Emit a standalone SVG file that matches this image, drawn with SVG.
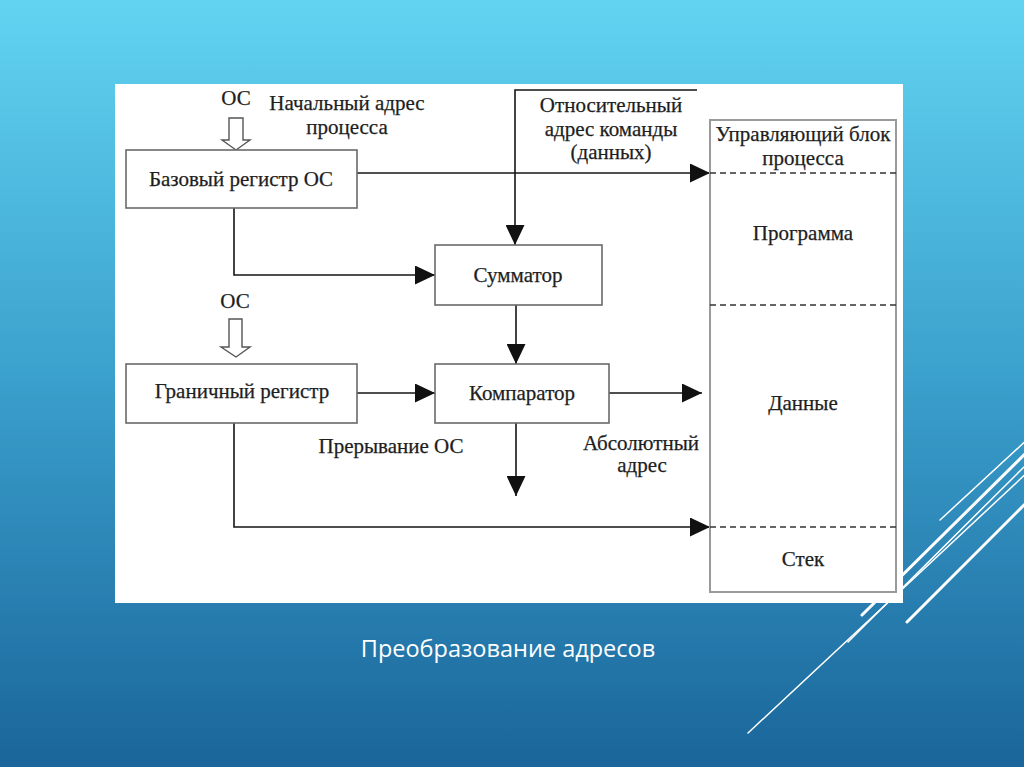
<svg xmlns="http://www.w3.org/2000/svg" width="1024" height="767" viewBox="0 0 1024 767">
<defs>
<linearGradient id="bg" x1="0" y1="0" x2="0" y2="1">
<stop offset="0" stop-color="#62d4f1"/>
<stop offset="0.5" stop-color="#3a9fcc"/>
<stop offset="1" stop-color="#1a659a"/>
</linearGradient>
<marker id="ah" viewBox="0 0 20 19" refX="20" refY="9.5" markerWidth="20" markerHeight="19" orient="auto" markerUnits="userSpaceOnUse">
<path d="M0,0 L20,9.5 L0,19 z" fill="#111"/>
</marker>
<style>
.t{font-family:"Liberation Serif","Times New Roman",serif;font-size:21px;fill:#1e1e1e;stroke:#1e1e1e;stroke-width:0.25;text-anchor:middle}
.box{fill:#fff;stroke:#6a6a6a;stroke-width:1.6}
.c{fill:none;stroke:#151515;stroke-width:1.6}
.dash{fill:none;stroke:#333;stroke-width:1.6;stroke-dasharray:6 4}
.hol{fill:#fff;stroke:#555;stroke-width:1.4}
.deco{stroke:#fff;fill:none;stroke-linecap:round}
</style>
</defs>
<rect width="1024" height="767" fill="url(#bg)"/>
<g id="decor">
<line class="deco" x1="940" y1="520" x2="1030" y2="437" stroke-width="1.5"/>
<line class="deco" x1="862" y1="615" x2="1030" y2="449" stroke-width="3"/>
<line class="deco" x1="848" y1="642" x2="1030" y2="461" stroke-width="1.5"/>
<line class="deco" x1="748" y1="733" x2="1030" y2="470" stroke-width="1.5"/>
<line class="deco" x1="907" y1="622" x2="1030" y2="499" stroke-width="3"/>
</g>
<rect x="115" y="84" width="788" height="519" fill="#fff"/>
<g id="connectors">
<path class="c" d="M357,173 H710" marker-end="url(#ah)"/>
<path class="c" d="M234,208 V275 H435" marker-end="url(#ah)"/>
<path class="c" d="M697,90 H515 V245" marker-end="url(#ah)"/>
<path class="c" d="M516,305 V364" marker-end="url(#ah)"/>
<path class="c" d="M357,393 H435" marker-end="url(#ah)"/>
<path class="c" d="M609,393 H702" marker-end="url(#ah)"/>
<path class="c" d="M516,423 V496" marker-end="url(#ah)"/>
<path class="c" d="M234,423 V527 H710" marker-end="url(#ah)"/>
<polygon class="hol" points="229,118 243,118 243,140 250,140 236,150 222,140 229,140"/>
<polygon class="hol" points="229,319 242,319 242,347 250,347 236,357 221,347 229,347"/>
</g>
<g id="labels">
<text class="t" x="236" y="105">ОС</text>
<text class="t" x="347" y="110">Начальный адрес</text>
<text class="t" x="347" y="134">процесса</text>
<text class="t" x="611" y="112">Относительный</text>
<text class="t" x="611" y="136">адрес команды</text>
<text class="t" x="611" y="159">(данных)</text>
<text class="t" x="235" y="308">ОС</text>
<text class="t" x="391" y="453">Прерывание ОС</text>
<text class="t" x="641" y="450">Абсолютный</text>
<text class="t" x="642" y="472">адрес</text>
</g>
<g id="base-register">
<rect class="box" x="126" y="150" width="231" height="58"/>
<text class="t" x="241" y="186">Базовый регистр ОС</text>
</g>
<g id="adder">
<rect class="box" x="435" y="245" width="167" height="60"/>
<text class="t" x="518" y="282">Сумматор</text>
</g>
<g id="limit-register">
<rect class="box" x="126" y="364" width="231" height="59"/>
<text class="t" x="242" y="398">Граничный регистр</text>
</g>
<g id="comparator">
<rect class="box" x="435" y="364" width="174" height="59"/>
<text class="t" x="522" y="400">Компаратор</text>
</g>
<g id="process-memory">
<rect x="710" y="120" width="186" height="472" fill="#fff" stroke="#9a9a9a" stroke-width="2"/>
<path class="dash" d="M710,173 H896 M710,305 H896 M710,527 H896"/>
<text class="t" x="803" y="141">Управляющий блок</text>
<text class="t" x="803" y="165">процесса</text>
<text class="t" x="803" y="240">Программа</text>
<text class="t" x="803" y="410">Данные</text>
<text class="t" x="803" y="566">Стек</text>
</g>
<text x="508" y="657" font-family="Open Sans, Liberation Sans, sans-serif" font-size="23.5" fill="#fff" text-anchor="middle">Преобразование адресов</text>
</svg>
